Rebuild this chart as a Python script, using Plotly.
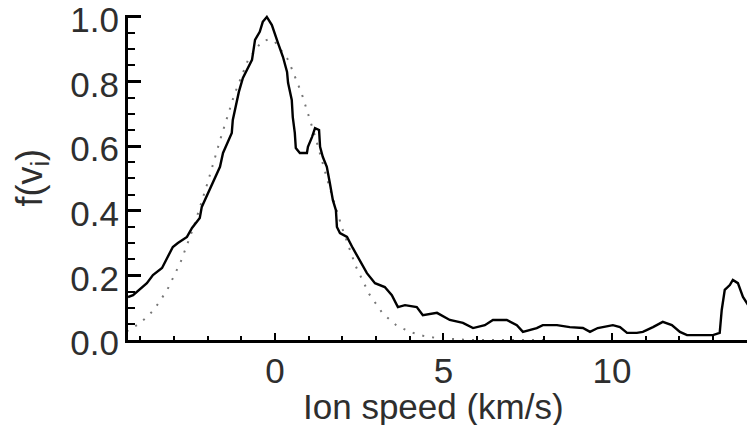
import plotly.graph_objects as go

# Measured ion speed distribution (solid black)
speed = [-4.36, -4.21, -3.80, -3.62, -3.35, -3.18, -3.03, -2.88, -2.61, -2.46,
         -2.23, -2.17, -1.99, -1.78, -1.63, -1.54, -1.39, -1.28, -1.25, -1.16,
         -1.07, -0.95, -0.80, -0.68, -0.59, -0.45, -0.36, -0.24, -0.09, 0.00,
         0.09, 0.24, 0.36, 0.39, 0.50, 0.53, 0.59, 0.62, 0.74, 0.95,
         0.98, 1.10, 1.19, 1.31, 1.34, 1.42, 1.54, 1.63, 1.72, 1.81,
         1.84, 1.93, 2.14, 2.31, 2.52, 2.73, 2.97, 3.26, 3.47, 3.65,
         3.86, 4.21, 4.39, 4.81, 5.19, 5.58, 5.88, 6.23, 6.47, 6.88,
         7.18, 7.36, 7.77, 7.95, 8.37, 8.75, 9.14, 9.35, 9.58, 10.03,
         10.24, 10.45, 10.74, 10.92, 11.22, 11.51, 11.78, 12.02, 12.23, 12.61,
         13.00, 13.20, 13.26, 13.35, 13.50, 13.59, 13.74, 13.89, 14.01, 14.24]
f_meas = [0.133, 0.139, 0.176, 0.201, 0.223, 0.257, 0.288, 0.300, 0.319, 0.347,
          0.378, 0.412, 0.455, 0.505, 0.536, 0.579, 0.613, 0.641, 0.681, 0.728,
          0.768, 0.811, 0.842, 0.867, 0.929, 0.954, 0.985, 1.000, 0.975, 0.950,
          0.920, 0.876, 0.830, 0.796, 0.743, 0.690, 0.641, 0.594, 0.579, 0.579,
          0.598, 0.628, 0.656, 0.650, 0.598, 0.567, 0.536, 0.486, 0.433, 0.402,
          0.350, 0.331, 0.319, 0.285, 0.248, 0.207, 0.176, 0.164, 0.139, 0.102,
          0.108, 0.102, 0.077, 0.084, 0.062, 0.053, 0.037, 0.046, 0.062, 0.062,
          0.046, 0.025, 0.037, 0.046, 0.046, 0.040, 0.037, 0.025, 0.037, 0.046,
          0.040, 0.022, 0.022, 0.025, 0.040, 0.056, 0.046, 0.025, 0.015, 0.015,
          0.015, 0.022, 0.093, 0.155, 0.170, 0.186, 0.176, 0.133, 0.115, 0.077]

# Fitted distribution (grey dotted)
speed_fit = [-4.4, -4.0, -3.6, -3.2, -2.8, -2.4, -2.0, -1.6, -1.2, -0.8,
             -0.4, -0.2, 0.0, 0.4, 0.8, 1.2, 1.6, 2.0, 2.4, 2.8,
             3.2, 3.6, 4.0, 4.4, 4.8, 5.2, 5.6, 6.0, 7.0, 8.0]
f_fit = [0.027, 0.052, 0.092, 0.154, 0.241, 0.353, 0.486, 0.628, 0.761, 0.866,
         0.923, 0.930, 0.923, 0.866, 0.761, 0.628, 0.480, 0.345, 0.228, 0.142,
         0.082, 0.046, 0.025, 0.013, 0.006, 0.003, 0.001, 0.0, 0.0, 0.0]

x_tick_vals = [0, 5, 10]
x_tick_text = ["0", "5", "10"]
y_tick_vals = [0.0, 0.2, 0.4, 0.6, 0.8, 1.0]
y_tick_text = ["0.0", "0.2", "0.4", "0.6", "0.8", "1.0"]
x_title = "Ion speed (km/s)"
y_title = "f(v<sub>i</sub>)"

FONT = "Liberation Sans, Arial, sans-serif"
TXT = "#2e2e2e"

fig = go.Figure()
fig.add_trace(go.Scatter(x=speed_fit, y=f_fit, mode="lines",
                         line=dict(color="#777777", width=2, dash="2px,8px"),
                         showlegend=False, hoverinfo="skip"))
fig.add_trace(go.Scatter(x=speed, y=f_meas, mode="lines",
                         line=dict(color="black", width=2.4),
                         showlegend=False))

fig.update_layout(
    width=747, height=425,
    margin=dict(l=128, r=0, t=15, b=85, autoexpand=False),
    paper_bgcolor="white", plot_bgcolor="white",
    font=dict(family=FONT, size=35, color=TXT),
    xaxis=dict(
        range=[-4.36, 14.01], automargin=False,
        showgrid=False, zeroline=False,
        showline=True, linecolor="black", linewidth=3,
        ticks="inside", ticklen=7, tickwidth=2, tickcolor="black",
        tickvals=x_tick_vals, ticktext=x_tick_text,
        ticklabelstandoff=-2, ticklabeloverflow="allow",
        minor=dict(dtick=1, tick0=0, ticks="inside", ticklen=4, tickwidth=2,
                   tickcolor="black", showgrid=False),
    ),
    yaxis=dict(
        range=[0, 1.006], automargin=False,
        showgrid=False, zeroline=False,
        showline=True, linecolor="black", linewidth=3,
        ticks="inside", ticklen=13, tickwidth=2.5, tickcolor="black",
        tickvals=y_tick_vals, ticktext=y_tick_text,
        ticklabelstandoff=-1, ticklabelshift=3, ticklabeloverflow="allow",
        minor=dict(dtick=0.05, tick0=0, ticks="inside", ticklen=7, tickwidth=2,
                   tickcolor="black", showgrid=False),
    ),
    annotations=[
        dict(text=x_title, xref="paper", yref="paper", x=0.4935, y=-0.205,
             xanchor="center", yanchor="middle", showarrow=False,
             font=dict(size=35, color=TXT)),
        dict(text=y_title, xref="paper", yref="paper", x=-0.1567, y=0.50,
             xanchor="center", yanchor="middle", showarrow=False, textangle=-90,
             font=dict(size=36, color=TXT)),
    ],
)

fig.write_html("out.html", config={"displayModeBar": False},
               post_script="document.body.style.margin='0';")
